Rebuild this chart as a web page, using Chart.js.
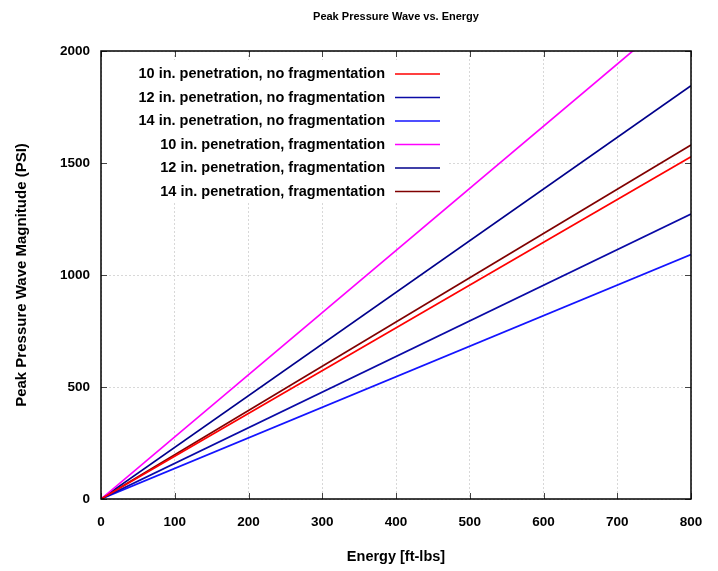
<!DOCTYPE html>
<html>
<head>
<meta charset="utf-8">
<script src="https://cdn.jsdelivr.net/npm/chart.js@4.4.0/dist/chart.umd.min.js"></script>
<style>
  html, body { margin: 0; padding: 0; background: #fff; }
  #wrap { width: 718px; height: 571px; position: relative; }
</style>
</head>
<body>
<div id="wrap"><canvas id="chart"></canvas></div>
<script>
// data (every series is a straight line from the origin)
const energy = [0, 800];
const labels = [
    '10 in. penetration, no fragmentation',
    '12 in. penetration, no fragmentation',
    '14 in. penetration, no fragmentation',
    '10 in. penetration, fragmentation',
    '12 in. penetration, fragmentation',
    '14 in. penetration, fragmentation'
];
const pen10NoFrag = [0, 1528];
const pen12NoFrag = [0, 1272];
const pen14NoFrag = [0, 1091];
const pen10Frag = [0, 2219];
const pen12Frag = [0, 1845];
const pen14Frag = [0, 1580];
const colors = ['#ff0000', '#0a0aa6', '#1414ff', '#ff00ff', '#00008b', '#800000'];
const xTicks = [0, 100, 200, 300, 400, 500, 600, 700, 800];
const yTicks = [0, 500, 1000, 1500, 2000];

const FONT = 'Arial, "Liberation Sans", sans-serif';

function points(vals) {
    return energy.map((e, i) => ({ x: e, y: vals[i] }));
}

const series = [pen10NoFrag, pen12NoFrag, pen14NoFrag, pen10Frag, pen12Frag, pen14Frag];

// title, inward tick marks, frame and gnuplot-like key
const framePlugin = {
    id: 'frame',
    afterDraw(chart) {
        const ctx = chart.ctx;
        const a = chart.chartArea;
        const xs = chart.scales.x, ys = chart.scales.y;
        ctx.save();

        // title centred over the plot area
        ctx.fillStyle = '#000';
        ctx.font = 'bold 11px ' + FONT;
        ctx.textAlign = 'center';
        ctx.textBaseline = 'middle';
        ctx.fillText('Peak Pressure Wave vs. Energy', (a.left + a.right) / 2, 17);

        // key
        ctx.fillStyle = '#fff';
        ctx.fillRect(a.left + 2, 60, 345, 143);
        ctx.font = 'bold 14.5px ' + FONT;
        ctx.textAlign = 'right';
        chart.data.datasets.forEach((ds, i) => {
            const y = 74 + i * 23.5;
            ctx.fillStyle = '#000';
            ctx.fillText(ds.label, 385, y);
            ctx.strokeStyle = ds.borderColor;
            ctx.lineWidth = 1.6;
            ctx.beginPath();
            ctx.moveTo(395, y);
            ctx.lineTo(440, y);
            ctx.stroke();
        });

        // tick marks pointing inwards
        ctx.strokeStyle = '#444';
        ctx.lineWidth = 1;
        ctx.beginPath();
        xTicks.forEach(v => {
            const px = Math.round(xs.getPixelForValue(v)) + 0.5;
            ctx.moveTo(px, a.bottom); ctx.lineTo(px, a.bottom - 6);
            ctx.moveTo(px, a.top); ctx.lineTo(px, a.top + 6);
        });
        yTicks.forEach(v => {
            const py = Math.round(ys.getPixelForValue(v)) + 0.5;
            ctx.moveTo(a.left, py); ctx.lineTo(a.left + 6, py);
            ctx.moveTo(a.right, py); ctx.lineTo(a.right - 6, py);
        });
        ctx.stroke();

        // frame
        ctx.strokeStyle = '#000';
        ctx.lineWidth = 1.5;
        ctx.strokeRect(a.left, a.top, a.right - a.left, a.bottom - a.top);
        ctx.restore();
    }
};

new Chart(document.getElementById('chart'), {
    type: 'line',
    data: {
        datasets: series.map((vals, i) => ({
            label: labels[i],
            data: points(vals),
            borderColor: colors[i],
            backgroundColor: colors[i],
            borderWidth: 1.7,
            pointRadius: 0,
            tension: 0
        }))
    },
    options: {
        responsive: true,
        maintainAspectRatio: false,
        animation: false,
        layout: { padding: { top: 51, right: 27, left: 0, bottom: 0 } },
        plugins: {
            legend: { display: false },
            title: { display: false },
            tooltip: { enabled: false }
        },
        scales: {
            x: {
                type: 'linear',
                min: 0, max: 800,
                afterBuildTicks: s => { s.ticks = xTicks.map(v => ({ value: v })); },
                afterFit: s => { s.height = 72; },
                grid: { color: '#d8d8d8', drawTicks: false, lineWidth: 1 },
                border: { display: false, dash: [2, 2] },
                ticks: {
                    color: '#000', padding: 15,
                    font: { family: FONT, size: 13.5, weight: 'bold' },
                    callback: v => String(v)
                },
                title: {
                    display: true, text: 'Energy [ft-lbs]', color: '#000',
                    padding: { top: 5, bottom: 5 },
                    font: { family: FONT, size: 14.5, weight: 'bold' }
                }
            },
            y: {
                type: 'linear',
                min: 0, max: 2000,
                afterBuildTicks: s => { s.ticks = yTicks.map(v => ({ value: v })); },
                afterFit: s => { s.width = 101; },
                grid: { color: '#d8d8d8', drawTicks: false, lineWidth: 1 },
                border: { display: false, dash: [2, 2] },
                ticks: {
                    color: '#000', padding: 11,
                    font: { family: FONT, size: 13.5, weight: 'bold' },
                    callback: v => String(v)
                },
                title: {
                    display: true, text: 'Peak Pressure Wave Magnitude (PSI)', color: '#000',
                    padding: { top: 13, bottom: 13 },
                    font: { family: FONT, size: 15, weight: 'bold' }
                }
            }
        }
    },
    plugins: [framePlugin]
});
</script>
</body>
</html>
